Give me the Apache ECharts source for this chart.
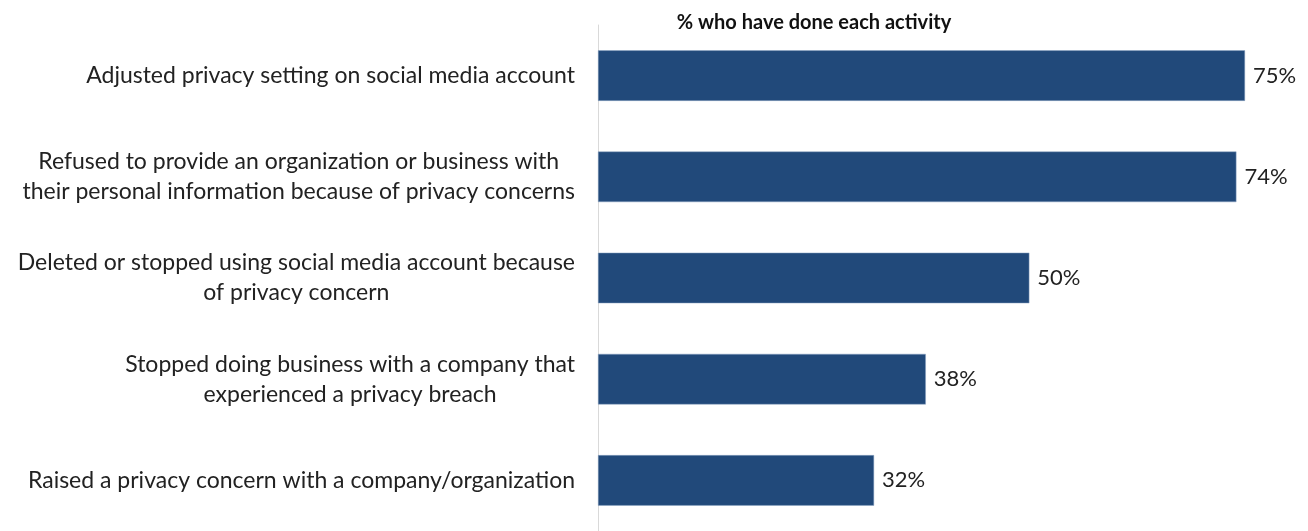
<!DOCTYPE html>
<html>
<head>
<meta charset="utf-8">
<script src="https://cdn.jsdelivr.net/npm/echarts@6/dist/echarts.min.js"></script>
<style>
  html, body { margin: 0; padding: 0; background: #fff; }
  #chart { width: 1308px; height: 531px; }
</style>
</head>
<body>
<div id="chart"></div>
<script>
const titleText = '% who have done each activity';
const categories = [
  'Adjusted privacy setting on social media account',
  'Refused to provide an organization or business with\ntheir personal information because of privacy concerns',
  'Deleted or stopped using social media account because\nof privacy concern',
  'Stopped doing business with a company that\nexperienced a privacy breach',
  'Raised a privacy concern with a company/organization'
];
const values = [75, 74, 50, 38, 32];

const FONT = 'Lato';
const chart = echarts.init(document.getElementById('chart'));
chart.setOption({
  animation: false,
  title: {
    text: titleText,
    left: 809,
    textAlign: 'center',
    top: 8,
    textStyle: { fontFamily: FONT, fontSize: 20, fontWeight: 'bold', color: '#111' }
  },
  grid: { left: 598, top: 25, right: 0, bottom: -3, containLabel: false },
  xAxis: {
    type: 'value', min: 0, max: 82.3,
    show: false
  },
  yAxis: {
    type: 'category',
    data: categories,
    inverse: true,
    axisLine: { show: true, lineStyle: { color: '#d9d9d9', width: 1 } },
    axisTick: { show: false },
    axisLabel: {
      margin: 23,
      align: 'right',
      // each line centred inside the right-aligned label block
      formatter: v => v.split('\n').map(l => '{c|' + l + '}').join('\n'),
      rich: {
        c: { align: 'center', fontFamily: FONT, fontSize: 23, lineHeight: 30, color: '#222' }
      }
    },
    splitLine: { show: false }
  },
  series: [{
    type: 'bar',
    data: values,
    barCategoryGap: '50%',
    itemStyle: { color: '#21497A', borderColor: '#8fa6c4', borderWidth: 0.5 },
    label: {
      show: true, position: 'right', distance: 8,
      formatter: p => p.value + '%',
      fontFamily: FONT, fontSize: 22, color: '#222'
    }
  }]
});
</script>
</body>
</html>
